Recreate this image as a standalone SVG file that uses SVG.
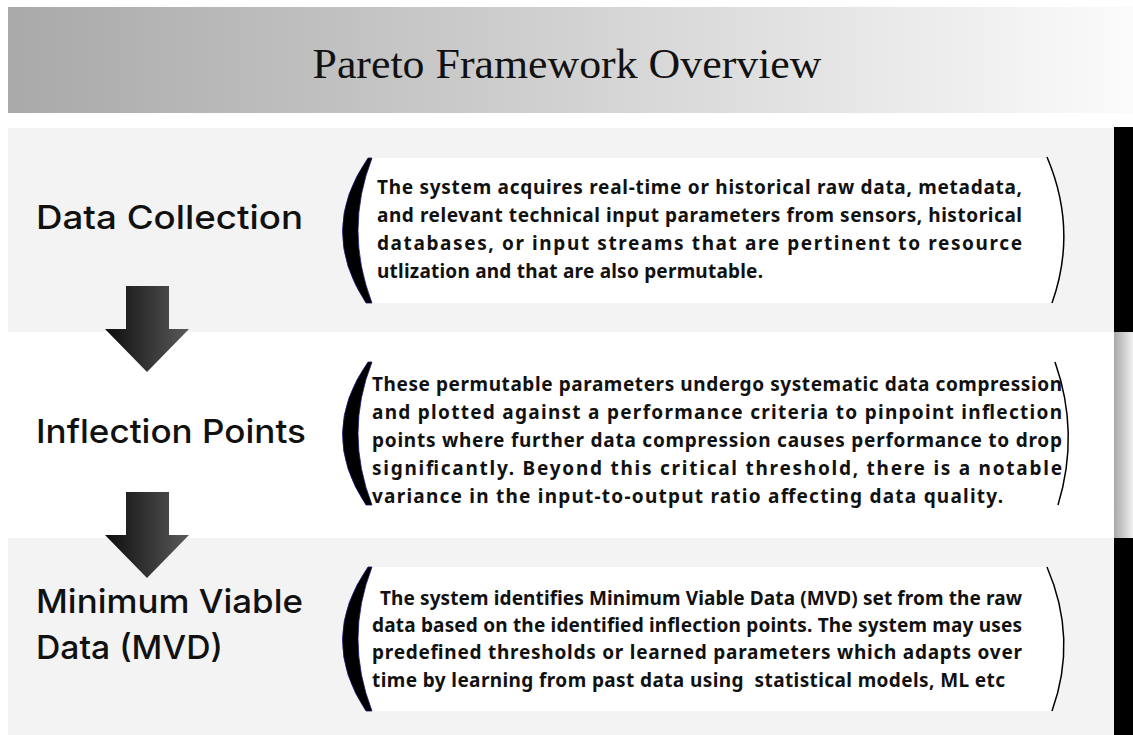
<svg xmlns="http://www.w3.org/2000/svg" width="1133" height="735" viewBox="0 0 1133 735">
  <defs>
    <linearGradient id="hdr" x1="0" y1="0" x2="1" y2="0">
      <stop offset="0" stop-color="#a9a9a9"/>
      <stop offset="1" stop-color="#fbfbfb"/>
    </linearGradient>
    <linearGradient id="bar" x1="0" y1="0" x2="1" y2="0">
      <stop offset="0" stop-color="#a8a8a8"/>
      <stop offset="1" stop-color="#f0f0f0"/>
    </linearGradient>
    <linearGradient id="arr" x1="0" y1="0" x2="1" y2="0">
      <stop offset="0" stop-color="#0d0d0d"/>
      <stop offset="1" stop-color="#5a5a5a"/>
    </linearGradient>
  </defs>
  <style>
    .title{font-family:"Liberation Serif","DejaVu Serif",serif;font-size:43px;fill:#111;}
    .lbl{font-family:Inter,"Noto Sans",sans-serif;font-weight:500;font-size:33px;fill:#111;}
    .body{font-family:"Noto Sans","Open Sans",sans-serif;font-weight:700;font-size:19px;fill:#111;white-space:pre;}
    .lb{fill:#000;stroke:#1a1a7a;stroke-width:0.8;}
    .rb{fill:none;stroke:#000;stroke-width:1.5;}
    .box{fill:#fff;}
    .arrow{fill:url(#arr);}
  </style>
  <rect width="1133" height="735" fill="#fff"/>
  <g id="header">
    <rect x="8" y="7" width="1125" height="106" fill="url(#hdr)"/>
    <text class="title" x="567" y="78" text-anchor="middle" textLength="509" lengthAdjust="spacingAndGlyphs">Pareto Framework Overview</text>
  </g>
  <g id="bands">
    <rect x="8" y="128" width="1106" height="204" fill="#f3f3f3"/>
    <rect x="8" y="332" width="1106" height="206" fill="#fff"/>
    <rect x="8" y="538" width="1106" height="197" fill="#f3f3f3"/>
    <rect x="1114" y="127" width="19" height="205" fill="#000"/>
    <rect x="1114" y="332" width="19" height="206" fill="url(#bar)"/>
    <rect x="1114" y="538" width="19" height="197" fill="#000"/>
  </g>
  <g id="node-data-collection">
    <text class="lbl" x="36" y="229" textLength="267" lengthAdjust="spacingAndGlyphs">Data Collection</text>
    <path class="box" d="M370 158 L1048 158 Q1078 230 1052 303 L370 303 Q344 230 370 158 Z"/>
    <path class="lb" d="M368 158 Q318 230 366 303 L372 303 Q344 230 372 158 Z"/>
    <path class="rb" d="M1047 157 Q1078 230 1052 303"/>
    <text class="body" x="377" y="194" textLength="645" lengthAdjust="spacing">The system acquires real-time or historical raw data, metadata,</text>
    <text class="body" x="377" y="222" textLength="645" lengthAdjust="spacing">and relevant technical input parameters from sensors, historical</text>
    <text class="body" x="377" y="250" textLength="645" lengthAdjust="spacing">databases, or input streams that are pertinent to resource</text>
    <text class="body" x="377" y="278" textLength="386" lengthAdjust="spacing">utlization and that are also permutable.</text>
  </g>
  <g id="node-inflection-points">
    <text class="lbl" x="36" y="443" textLength="270" lengthAdjust="spacingAndGlyphs">Inflection Points</text>
    <path class="box" d="M370 362 L1055 362 Q1078 433 1058 505 L370 505 Q344 433 370 362 Z"/>
    <path class="lb" d="M368 362 Q318 433 366 505 L372 505 Q344 433 372 362 Z"/>
    <path class="rb" d="M1055 362 Q1080 433 1058 505"/>
    <text class="body" x="372" y="391" textLength="690" lengthAdjust="spacing">These permutable parameters undergo systematic data compression</text>
    <text class="body" x="372" y="419" textLength="690" lengthAdjust="spacing">and plotted against a performance criteria to pinpoint inflection</text>
    <text class="body" x="372" y="447" textLength="690" lengthAdjust="spacing">points where further data compression causes performance to drop</text>
    <text class="body" x="372" y="475" textLength="690" lengthAdjust="spacing">significantly. Beyond this critical threshold, there is a notable</text>
    <text class="body" x="372" y="503" textLength="631" lengthAdjust="spacing">variance in the input-to-output ratio affecting data quality.</text>
  </g>
  <g id="node-mvd">
    <text class="lbl" x="36" y="613" textLength="267" lengthAdjust="spacingAndGlyphs">Minimum Viable</text>
    <text class="lbl" x="36" y="659" textLength="187" lengthAdjust="spacingAndGlyphs">Data (MVD)</text>
    <path class="box" d="M370 567 L1048 567 Q1078 639 1052 711 L370 711 Q344 639 370 567 Z"/>
    <path class="lb" d="M368 567 Q318 639 366 711 L372 711 Q344 639 372 567 Z"/>
    <path class="rb" d="M1047 567 Q1078 639 1052 711"/>
    <text class="body" x="380" y="605" textLength="642" lengthAdjust="spacing">The system identifies Minimum Viable Data (MVD) set from the raw</text>
    <text class="body" x="372" y="632" textLength="650" lengthAdjust="spacing">data based on the identified inflection points. The system may uses</text>
    <text class="body" x="372" y="659" textLength="650" lengthAdjust="spacing">predefined thresholds or learned parameters which adapts over</text>
    <text class="body" x="372" y="687" textLength="633" lengthAdjust="spacing">time by learning from past data using  statistical models, ML etc</text>
  </g>
  <g id="connectors">
    <polygon class="arrow" points="126,286 169,286 169,329 189,329 147,372 105,329 126,329"/>
    <polygon class="arrow" points="126,492 169,492 169,535 189,535 147,578 105,535 126,535"/>
  </g>
</svg>
